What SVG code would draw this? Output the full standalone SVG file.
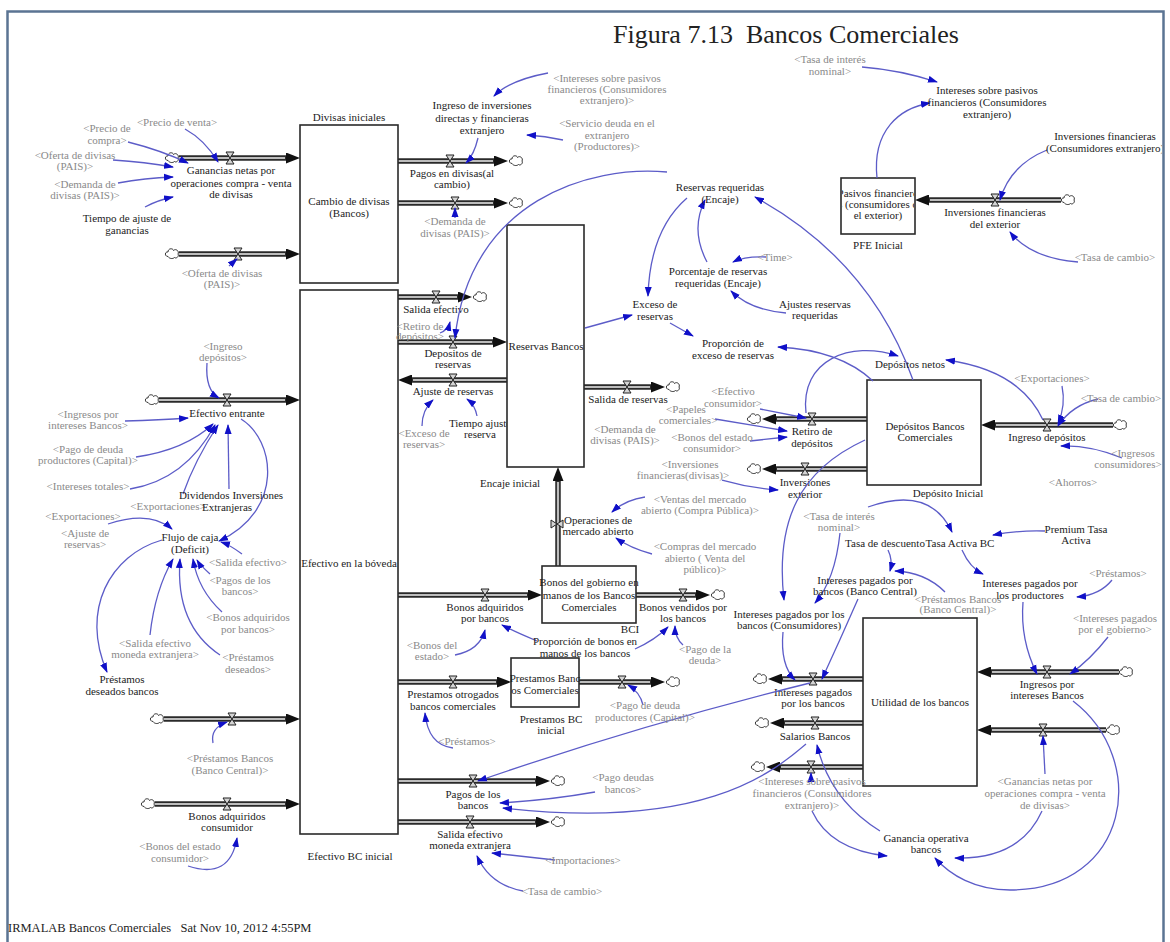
<svg xmlns="http://www.w3.org/2000/svg" width="1170" height="942" viewBox="0 0 1170 942">
<style>
.t{font-family:"Liberation Serif","Times New Roman",serif;font-size:11px;fill:#1c1c1c;text-anchor:middle}
.g{font-family:"Liberation Serif","Times New Roman",serif;font-size:11px;fill:#8a8a8a;text-anchor:middle}
.s{fill:#fff;stroke:#2a2a2a;stroke-width:1.6}
.po{stroke:#2a2a2a;stroke-width:5.5;fill:none;marker-end:url(#pa)}
.pi{stroke:#bdbdbd;stroke-width:2.2;fill:none}
.c{fill:none;stroke:#5c5cc8;stroke-width:1.3;marker-end:url(#ca)}
</style>
<defs>
<marker id="pa" markerUnits="userSpaceOnUse" markerWidth="14" markerHeight="11" refX="3" refY="5.5" orient="auto"><path d="M0,0L14,5.5L0,11Z" fill="#111"/></marker>
<marker id="ca" markerUnits="userSpaceOnUse" markerWidth="10" markerHeight="8" refX="9" refY="4" orient="auto"><path d="M0,0.5L10,4L0,7.5Z" fill="#1010c8"/></marker>
<g id="v"><path d="M-4,-6H4L-4,6H4Z" fill="#d4d4d4" stroke="#222" stroke-width="1"/></g>
<g id="vh"><path d="M-6,-4V4L6,-4V4Z" fill="#d4d4d4" stroke="#222" stroke-width="1"/></g>
<g id="cl"><path d="M-4,2.5C-7.5,2.5 -7.5,-2.5 -4,-2C-4,-6 1,-6 1.5,-3.5C4,-6 7.5,-2.5 6,0C7.5,2.5 4,5 2.5,3.5C1,5 -2.5,5 -4,2.5Z" fill="#fff" stroke="#333" stroke-width="1"/></g>
<clipPath id="fr"><rect x="9" y="13" width="1153" height="929"/></clipPath>
<clipPath id="pasclip"><rect x="842" y="179" width="72" height="54"/></clipPath>
</defs>
<rect x="0" y="0" width="1170" height="942" fill="#fff"/>
<rect x="7.5" y="11.5" width="1156" height="940" fill="#fff" stroke="#5b7493" stroke-width="2.5"/>
<text x="613" y="43" xml:space="preserve" style="font-family:'Liberation Serif','Times New Roman',serif;font-size:26px;fill:#222;white-space:pre">Figura 7.13  Bancos Comerciales</text>
<text x="8" y="932" xml:space="preserve" style="font-family:'Liberation Serif','Times New Roman',serif;font-size:12.5px;fill:#222;white-space:pre">IRMALAB Bancos Comerciales   Sat Nov 10, 2012 4:55PM</text>
<g clip-path="url(#fr)">
<g id="flows">
<g id="flow-ganancias"><line class="po" x1="179" y1="158" x2="289" y2="158"/><line class="pi" x1="179" y1="158" x2="285" y2="158"/><use href="#cl" x="172" y="158"/><use href="#v" x="230" y="158"/><text class="t"><tspan x="231" y="174">Ganancias netas por</tspan><tspan x="231" y="187">operaciones compra - venta</tspan><tspan x="231" y="198">de divisas</tspan></text></g>
<g id="flow-oferta"><line class="po" x1="179" y1="254" x2="289" y2="254"/><line class="pi" x1="179" y1="254" x2="285" y2="254"/><use href="#cl" x="172" y="254"/><use href="#v" x="238" y="254"/></g>
<g id="flow-pagos-divisas"><line class="po" x1="398" y1="161" x2="497" y2="161"/><line class="pi" x1="398" y1="161" x2="493" y2="161"/><use href="#cl" x="516" y="161"/><use href="#v" x="450" y="161"/><text class="t"><tspan x="452" y="177">Pagos en divisas(al</tspan><tspan x="452" y="188">cambio)</tspan></text></g>
<g id="flow-demanda"><line class="po" x1="398" y1="203" x2="497" y2="203"/><line class="pi" x1="398" y1="203" x2="493" y2="203"/><use href="#cl" x="516" y="203"/><use href="#v" x="455" y="203"/></g>
<g id="flow-efectivo-entrante"><line class="po" x1="159" y1="400" x2="289" y2="400"/><line class="pi" x1="159" y1="400" x2="285" y2="400"/><use href="#cl" x="152" y="400"/><use href="#v" x="227" y="400"/><text class="t" x="227" y="417">Efectivo entrante</text></g>
<g id="flow-salida-efectivo"><line class="po" x1="398" y1="297" x2="461" y2="297"/><line class="pi" x1="398" y1="297" x2="457" y2="297"/><use href="#cl" x="480" y="297"/><use href="#v" x="436" y="297"/><text class="t" x="436" y="313">Salida efectivo</text></g>
<g id="flow-depositos-reservas"><line class="po" x1="398" y1="342" x2="496" y2="342"/><line class="pi" x1="398" y1="342" x2="492" y2="342"/><use href="#v" x="453" y="342"/><text class="t"><tspan x="453" y="357">Depositos de</tspan><tspan x="453" y="368">reservas</tspan></text></g>
<g id="flow-ajuste-reservas"><line class="po" x1="507" y1="380" x2="409" y2="380"/><line class="pi" x1="507" y1="380" x2="413" y2="380"/><use href="#v" x="453" y="380"/><text class="t" x="453" y="395">Ajuste de reservas</text></g>
<g id="flow-salida-reservas"><line class="po" x1="584" y1="387" x2="654" y2="387"/><line class="pi" x1="584" y1="387" x2="650" y2="387"/><use href="#cl" x="673" y="387"/><use href="#v" x="627" y="387"/><text class="t" x="628" y="403">Salida de reservas</text></g>
<g id="flow-operaciones"><line class="po" x1="558" y1="566" x2="558" y2="478"/><line class="pi" x1="558" y1="566" x2="558" y2="482"/><use href="#vh" x="557" y="524"/><text class="t"><tspan x="598" y="524">Operaciones de</tspan><tspan x="598" y="535">mercado abierto</tspan></text></g>
<g id="flow-bonos-adq-bancos"><line class="po" x1="398" y1="595" x2="531" y2="595"/><line class="pi" x1="398" y1="595" x2="527" y2="595"/><use href="#v" x="485" y="595"/><text class="t"><tspan x="485" y="611">Bonos adquiridos</tspan><tspan x="485" y="622">por bancos</tspan></text></g>
<g id="flow-bonos-vendidos"><line class="po" x1="636" y1="595" x2="699" y2="595"/><line class="pi" x1="636" y1="595" x2="695" y2="595"/><use href="#cl" x="718" y="595"/><use href="#v" x="683" y="595"/><text class="t"><tspan x="683" y="611">Bonos vendidos por</tspan><tspan x="683" y="622">los bancos</tspan></text></g>
<g id="flow-prestamos-otrogados"><line class="po" x1="398" y1="682" x2="500" y2="682"/><line class="pi" x1="398" y1="682" x2="496" y2="682"/><use href="#v" x="453" y="682"/><text class="t"><tspan x="453" y="698">Prestamos otrogados</tspan><tspan x="453" y="710">bancos comerciales</tspan></text></g>
<g id="flow-pago-prestamos"><line class="po" x1="579" y1="682" x2="654" y2="682"/><line class="pi" x1="579" y1="682" x2="650" y2="682"/><use href="#cl" x="673" y="682"/><use href="#v" x="622" y="682"/></g>
<g id="flow-pagos-bancos"><line class="po" x1="398" y1="781" x2="539" y2="781"/><line class="pi" x1="398" y1="781" x2="535" y2="781"/><use href="#cl" x="558" y="781"/><use href="#v" x="473" y="781"/><text class="t"><tspan x="473" y="798">Pagos de los</tspan><tspan x="473" y="809">bancos</tspan></text></g>
<g id="flow-salida-moneda"><line class="po" x1="398" y1="822" x2="539" y2="822"/><line class="pi" x1="398" y1="822" x2="535" y2="822"/><use href="#cl" x="558" y="822"/><use href="#v" x="470" y="822"/><text class="t"><tspan x="470" y="838">Salida efectivo</tspan><tspan x="470" y="849">moneda extranjera</tspan></text></g>
<g id="flow-prestamos-bc"><line class="po" x1="164" y1="719" x2="289" y2="719"/><line class="pi" x1="164" y1="719" x2="285" y2="719"/><use href="#cl" x="157" y="719"/><use href="#v" x="232" y="719"/></g>
<g id="flow-bonos-consumidor"><line class="po" x1="155" y1="804" x2="289" y2="804"/><line class="pi" x1="155" y1="804" x2="285" y2="804"/><use href="#cl" x="148" y="804"/><use href="#v" x="227" y="804"/><text class="t"><tspan x="227" y="820">Bonos adquiridos</tspan><tspan x="227" y="831">consumidor</tspan></text></g>
<g id="flow-inv-fin-exterior"><line class="po" x1="1061" y1="200" x2="926" y2="200"/><line class="pi" x1="1061" y1="200" x2="930" y2="200"/><use href="#cl" x="1068" y="200"/><use href="#v" x="995" y="200"/><text class="t"><tspan x="995" y="216">Inversiones financieras</tspan><tspan x="995" y="228">del exterior</tspan></text></g>
<g id="flow-ingreso-depositos"><line class="po" x1="1113" y1="425" x2="992" y2="425"/><line class="pi" x1="1113" y1="425" x2="996" y2="425"/><use href="#cl" x="1120" y="425"/><use href="#v" x="1047" y="425"/><text class="t" x="1047" y="441">Ingreso depósitos</text></g>
<g id="flow-retiro"><line class="po" x1="867" y1="419" x2="773" y2="419"/><line class="pi" x1="867" y1="419" x2="777" y2="419"/><use href="#cl" x="754" y="419"/><use href="#v" x="812" y="419"/><text class="t"><tspan x="812" y="435">Retiro de</tspan><tspan x="812" y="447">depósitos</tspan></text></g>
<g id="flow-inv-exterior"><line class="po" x1="867" y1="469" x2="773" y2="469"/><line class="pi" x1="867" y1="469" x2="777" y2="469"/><use href="#cl" x="754" y="469"/><use href="#v" x="805" y="469"/><text class="t"><tspan x="805" y="486">Inversiones</tspan><tspan x="805" y="498">exterior</tspan></text></g>
<g id="flow-ingresos-intereses"><line class="po" x1="1119" y1="672" x2="988" y2="672"/><line class="pi" x1="1119" y1="672" x2="992" y2="672"/><use href="#cl" x="1126" y="672"/><use href="#v" x="1047" y="672"/><text class="t"><tspan x="1047" y="688">Ingresos por</tspan><tspan x="1047" y="699">intereses Bancos</tspan></text></g>
<g id="flow-int-pagados"><line class="po" x1="863" y1="679" x2="779" y2="679"/><line class="pi" x1="863" y1="679" x2="783" y2="679"/><use href="#cl" x="760" y="679"/><use href="#v" x="813" y="679"/><text class="t"><tspan x="813" y="696">Intereses pagados</tspan><tspan x="813" y="707">por los bancos</tspan></text></g>
<g id="flow-salarios"><line class="po" x1="863" y1="723" x2="781" y2="723"/><line class="pi" x1="863" y1="723" x2="785" y2="723"/><use href="#cl" x="762" y="723"/><use href="#v" x="815" y="723"/><text class="t" x="815" y="740">Salarios Bancos</text></g>
<g id="flow-int-pasivos"><line class="po" x1="863" y1="767" x2="777" y2="767"/><line class="pi" x1="863" y1="767" x2="781" y2="767"/><use href="#cl" x="758" y="767"/><use href="#v" x="811" y="767"/></g>
<g id="flow-ganancias-util"><line class="po" x1="1106" y1="730" x2="988" y2="730"/><line class="pi" x1="1106" y1="730" x2="992" y2="730"/><use href="#cl" x="1113" y="730"/><use href="#v" x="1043" y="730"/></g>
</g>
<g id="aux-tiempo-ajuste-res"><text class="t"><tspan x="480" y="427">Tiempo ajuste</tspan><tspan x="480" y="438">reserva</tspan></text></g>
<g id="stock-cambio"><rect class="s" x="300" y="125" width="98" height="158"/><text class="t"><tspan x="349" y="205">Cambio de divisas</tspan><tspan x="349" y="217">(Bancos)</tspan></text></g>
<g id="stock-efectivo"><rect class="s" x="300" y="290" width="98" height="544"/><text class="t" x="349" y="567">Efectivo en la bóveda</text></g>
<g id="stock-reservas"><rect class="s" x="507" y="225" width="77" height="242"/><text class="t" x="546" y="350">Reservas Bancos</text></g>
<g id="stock-pasivos"><rect class="s" x="841" y="178" width="74" height="56"/><text class="t" clip-path="url(#pasclip)"><tspan x="878" y="197">Pasivos financiero</tspan><tspan x="878" y="208">s (consumidores d</tspan><tspan x="878" y="219">el exterior)</tspan></text></g>
<g id="stock-depositos"><rect class="s" x="867" y="380" width="114" height="105"/><text class="t"><tspan x="925" y="430">Depósitos Bancos</tspan><tspan x="925" y="441">Comerciales</tspan></text></g>
<g id="stock-bonos"><rect class="s" x="542" y="566" width="94" height="57"/><text class="t"><tspan x="589" y="586">Bonos del gobierno en</tspan><tspan x="589" y="599">manos de los Bancos</tspan><tspan x="589" y="611">Comerciales</tspan></text></g>
<g id="stock-prestamos"><rect class="s" x="511" y="658" width="68" height="49"/><text class="t"><tspan x="545" y="682">Prestamos Banc</tspan><tspan x="545" y="694">os Comerciales</tspan></text></g>
<g id="stock-utilidad"><rect class="s" x="863" y="618" width="114" height="168"/><text class="t" x="920" y="706">Utilidad de los bancos</text></g>
<g id="connectors">
<path class="c" d="M185,129Q205,140 218,162"/>
<path class="c" d="M128,142Q160,150 188,163"/>
<path class="c" d="M113,160Q145,162 173,167"/>
<path class="c" d="M118,183Q145,178 173,177"/>
<path class="c" d="M145,207Q158,200 173,197"/>
<path class="c" d="M229,266L237,259"/>
<path class="c" d="M548,73Q510,80 494,96"/>
<path class="c" d="M563,140Q545,136 527,135"/>
<path class="c" d="M478,138Q474,155 466,163"/>
<path class="c" d="M455,218L455,208"/>
<path class="c" d="M667,172C590,165 470,200 455,338"/>
<path class="c" d="M687,198Q650,230 648,296"/>
<path class="c" d="M707,262Q690,230 705,200"/>
<path class="c" d="M766,257Q745,256 733,262"/>
<path class="c" d="M786,313Q750,310 731,291"/>
<path class="c" d="M913,380Q870,260 755,197"/>
<path class="c" d="M585,328L632,315"/>
<path class="c" d="M670,323L693,336"/>
<path class="c" d="M873,381Q840,350 778,347"/>
<path class="c" d="M806,413C800,360 850,340 898,356"/>
<path class="c" d="M1043,420Q1020,370 946,360"/>
<path class="c" d="M1062,386Q1066,405 1058,424"/>
<path class="c" d="M1098,399Q1072,405 1058,426"/>
<path class="c" d="M1122,458Q1090,445 1061,446"/>
<path class="c" d="M760,409L806,418"/>
<path class="c" d="M715,419L787,431"/>
<path class="c" d="M750,441L787,437"/>
<path class="c" d="M722,480Q750,488 778,490"/>
<path class="c" d="M865,440C800,470 775,520 784,600"/>
<path class="c" d="M840,533Q835,580 815,603"/>
<path class="c" d="M868,507Q930,485 952,532"/>
<path class="c" d="M1045,531Q1020,530 993,535"/>
<path class="c" d="M888,550Q893,560 890,571"/>
<path class="c" d="M945,592Q925,572 895,571"/>
<path class="c" d="M962,550Q970,568 983,574"/>
<path class="c" d="M1112,580Q1100,595 1077,597"/>
<path class="c" d="M1023,602Q1020,640 1037,674"/>
<path class="c" d="M1108,637Q1090,660 1070,674"/>
<path class="c" d="M858,599Q840,640 822,679"/>
<path class="c" d="M783,632Q780,665 795,680"/>
<path class="c" d="M810,683Q640,725 478,781"/>
<path class="c" d="M595,792Q550,800 500,803"/>
<path class="c" d="M806,744C770,775 700,830 503,808"/>
<path class="c" d="M555,860Q520,856 492,853"/>
<path class="c" d="M523,891Q490,885 477,856"/>
<path class="c" d="M880,831Q830,800 817,745"/>
<path class="c" d="M812,811Q830,850 887,856"/>
<path class="c" d="M1042,811Q1020,860 955,858"/>
<path class="c" d="M1073,701C1150,760 1130,890 1010,890C975,890 950,875 935,858"/>
<path class="c" d="M1045,774L1043,736"/>
<path class="c" d="M811,782L811,773"/>
<path class="c" d="M207,363Q205,390 219,398"/>
<path class="c" d="M125,421Q160,420 188,418"/>
<path class="c" d="M136,457Q185,450 213,424"/>
<path class="c" d="M130,489Q185,480 215,425"/>
<path class="c" d="M183,494Q195,460 218,425"/>
<path class="c" d="M229,489L228,425"/>
<path class="c" d="M241,419C275,440 285,510 219,541"/>
<path class="c" d="M108,524Q150,510 172,529"/>
<path class="c" d="M162,540C110,555 80,610 107,672"/>
<path class="c" d="M242,554Q230,545 221,542"/>
<path class="c" d="M210,574Q200,565 197,560"/>
<path class="c" d="M222,612Q198,590 193,559"/>
<path class="c" d="M150,635Q155,590 173,559"/>
<path class="c" d="M220,655Q175,625 180,559"/>
<path class="c" d="M213,743Q210,728 227,722"/>
<path class="c" d="M188,866Q230,880 237,838"/>
<path class="c" d="M455,655Q480,650 485,630"/>
<path class="c" d="M537,641Q515,632 502,625"/>
<path class="c" d="M635,649Q655,640 668,627"/>
<path class="c" d="M683,645Q675,638 675,626"/>
<path class="c" d="M645,497Q625,500 612,512"/>
<path class="c" d="M652,554Q630,548 616,538"/>
<path class="c" d="M643,705Q640,692 628,685"/>
<path class="c" d="M453,748Q428,745 425,713"/>
<path class="c" d="M422,426Q422,410 433,400"/>
<path class="c" d="M477,416Q475,405 467,399"/>
<path class="c" d="M440,333Q448,330 450,322"/>
<path class="c" d="M877,178C872,130 900,108 930,103"/>
<path class="c" d="M862,67Q900,70 937,82"/>
<path class="c" d="M1047,150Q1010,165 1000,200"/>
<path class="c" d="M1078,262Q1030,258 1010,232"/>
</g>
<g id="aux-precio-venta"><text class="g" x="177" y="126">&lt;Precio de venta&gt;</text></g>
<g id="aux-precio-compra"><text class="g"><tspan x="107" y="132">&lt;Precio de</tspan><tspan x="107" y="144">compra&gt;</tspan></text></g>
<g id="aux-oferta-1"><text class="g"><tspan x="75" y="159">&lt;Oferta de divisas</tspan><tspan x="75" y="170">(PAIS)&gt;</tspan></text></g>
<g id="aux-demanda-1"><text class="g"><tspan x="85" y="188">&lt;Demanda de</tspan><tspan x="85" y="199">divisas (PAIS)&gt;</tspan></text></g>
<g id="aux-tiempo-ajuste"><text class="t"><tspan x="127" y="222">Tiempo de ajuste de</tspan><tspan x="127" y="234">ganancias</tspan></text></g>
<g id="aux-divisas-iniciales"><text class="t" x="349" y="121">Divisas iniciales</text></g>
<g id="aux-ingreso-inversiones"><text class="t"><tspan x="482" y="109">Ingreso de inversiones</tspan><tspan x="482" y="122">directas y financieras</tspan><tspan x="482" y="134">extranjero</tspan></text></g>
<g id="aux-int-pasivos-ref"><text class="g"><tspan x="607" y="82">&lt;Intereses sobre pasivos</tspan><tspan x="607" y="93">financieros (Consumidores</tspan><tspan x="607" y="104">extranjero)&gt;</tspan></text></g>
<g id="aux-servicio-deuda"><text class="g"><tspan x="607" y="127">&lt;Servicio deuda en el</tspan><tspan x="607" y="139">extranjero</tspan><tspan x="607" y="150">(Productores)&gt;</tspan></text></g>
<g id="aux-demanda-2"><text class="g"><tspan x="455" y="225">&lt;Demanda de</tspan><tspan x="455" y="237">divisas (PAIS)&gt;</tspan></text></g>
<g id="aux-oferta-2"><text class="g"><tspan x="222" y="277">&lt;Oferta de divisas</tspan><tspan x="222" y="288">(PAIS)&gt;</tspan></text></g>
<g id="aux-reservas-requeridas"><text class="t"><tspan x="720" y="191">Reservas requeridas</tspan><tspan x="720" y="203">(Encaje)</tspan></text></g>
<g id="aux-tasa-nominal-1"><text class="g"><tspan x="830" y="63">&lt;Tasa de interés</tspan><tspan x="830" y="75">nominal&gt;</tspan></text></g>
<g id="aux-int-pasivos"><text class="t"><tspan x="987" y="94">Intereses sobre pasivos</tspan><tspan x="987" y="106">financieros (Consumidores</tspan><tspan x="987" y="118">extranjero)</tspan></text></g>
<g id="aux-inv-fin-consumidores"><text class="t"><tspan x="1105" y="140">Inversiones financieras</tspan><tspan x="1105" y="152">(Consumidores extranjero)</tspan></text></g>
<g id="aux-pfe-inicial"><text class="t" x="878" y="249">PFE Inicial</text></g>
<g id="aux-tasa-cambio-1"><text class="g" x="1115" y="261">&lt;Tasa de cambio&gt;</text></g>
<g id="aux-time"><text class="g" x="775" y="261">&lt;Time&gt;</text></g>
<g id="aux-porcentaje"><text class="t"><tspan x="718" y="275">Porcentaje de reservas</tspan><tspan x="718" y="287">requeridas (Encaje)</tspan></text></g>
<g id="aux-ajustes-reservas"><text class="t"><tspan x="815" y="308">Ajustes reservas</tspan><tspan x="815" y="319">requeridas</tspan></text></g>
<g id="aux-exceso"><text class="t"><tspan x="655" y="308">Exceso de</tspan><tspan x="655" y="320">reservas</tspan></text></g>
<g id="aux-proporcion-exceso"><text class="t"><tspan x="733" y="347">Proporción de</tspan><tspan x="733" y="359">exceso de reservas</tspan></text></g>
<g id="aux-depositos-netos"><text class="t" x="910" y="368">Depósitos netos</text></g>
<g id="aux-exportaciones-1"><text class="g" x="1052" y="382">&lt;Exportaciones&gt;</text></g>
<g id="aux-tasa-cambio-2"><text class="g" x="1121" y="402">&lt;Tasa de cambio&gt;</text></g>
<g id="aux-ingresos-consumidores"><text class="g"><tspan x="1133" y="457">&lt;Ingresos</tspan><tspan x="1128" y="468">consumidores&gt;</tspan></text></g>
<g id="aux-ahorros"><text class="g" x="1073" y="486">&lt;Ahorros&gt;</text></g>
<g id="aux-deposito-inicial"><text class="t" x="948" y="497">Depósito Inicial</text></g>
<g id="aux-retiro-ref"><text class="g"><tspan x="420" y="330">&lt;Retiro de</tspan><tspan x="420" y="340">depósitos&gt;</tspan></text></g>
<g id="aux-exceso-ref"><text class="g"><tspan x="424" y="437">&lt;Exceso de</tspan><tspan x="424" y="448">reservas&gt;</tspan></text></g>
<g id="aux-demanda-3"><text class="g"><tspan x="625" y="433">&lt;Demanda de</tspan><tspan x="625" y="444">divisas (PAIS)&gt;</tspan></text></g>
<g id="aux-efectivo-consumidor"><text class="g"><tspan x="733" y="395">&lt;Efectivo</tspan><tspan x="733" y="407">consumidor&gt;</tspan></text></g>
<g id="aux-papeles"><text class="g"><tspan x="686" y="413">&lt;Papeles</tspan><tspan x="688" y="424">comerciales&gt;</tspan></text></g>
<g id="aux-bonos-estado-cons-1"><text class="g"><tspan x="712" y="441">&lt;Bonos del estado</tspan><tspan x="712" y="452">consumidor&gt;</tspan></text></g>
<g id="aux-inversiones-fin"><text class="g"><tspan x="690" y="468">&lt;Inversiones</tspan><tspan x="683" y="479">financieras(divisas)&gt;</tspan></text></g>
<g id="aux-encaje-inicial"><text class="t" x="510" y="487">Encaje inicial</text></g>
<g id="aux-ingreso-dep-ref"><text class="g"><tspan x="223" y="350">&lt;Ingreso</tspan><tspan x="223" y="361">depósitos&gt;</tspan></text></g>
<g id="aux-ingresos-int-ref"><text class="g"><tspan x="88" y="418">&lt;Ingresos por</tspan><tspan x="88" y="429">intereses Bancos&gt;</tspan></text></g>
<g id="aux-pago-deuda-ref"><text class="g"><tspan x="88" y="453">&lt;Pago de deuda</tspan><tspan x="88" y="464">productores (Capital)&gt;</tspan></text></g>
<g id="aux-intereses-totales"><text class="g" x="88" y="490">&lt;Intereses totales&gt;</text></g>
<g id="aux-exportaciones-2"><text class="g" x="168" y="510">&lt;Exportaciones&gt;</text></g>
<g id="aux-dividendos"><text class="t"><tspan x="231" y="499">Dividendos Inversiones</tspan><tspan x="227" y="511">Extranjeras</tspan></text></g>
<g id="aux-exportaciones-3"><text class="g" x="83" y="520">&lt;Exportaciones&gt;</text></g>
<g id="aux-ajuste-ref"><text class="g"><tspan x="85" y="537">&lt;Ajuste de</tspan><tspan x="85" y="548">reservas&gt;</tspan></text></g>
<g id="aux-flujo-caja"><text class="t"><tspan x="190" y="541">Flujo de caja</tspan><tspan x="190" y="553">(Deficit)</tspan></text></g>
<g id="aux-salida-ef-ref"><text class="g" x="248" y="566">&lt;Salida efectivo&gt;</text></g>
<g id="aux-pagos-ref"><text class="g"><tspan x="240" y="584">&lt;Pagos de los</tspan><tspan x="240" y="595">bancos&gt;</tspan></text></g>
<g id="aux-bonos-adq-ref"><text class="g"><tspan x="248" y="621">&lt;Bonos adquiridos</tspan><tspan x="248" y="633">por bancos&gt;</tspan></text></g>
<g id="aux-salida-moneda-ref"><text class="g"><tspan x="155" y="647">&lt;Salida efectivo</tspan><tspan x="155" y="658">moneda extranjera&gt;</tspan></text></g>
<g id="aux-prest-deseados-ref"><text class="g"><tspan x="248" y="661">&lt;Préstamos</tspan><tspan x="248" y="673">deseados&gt;</tspan></text></g>
<g id="aux-prestamos-deseados"><text class="t"><tspan x="122" y="683">Préstamos</tspan><tspan x="122" y="695">deseados bancos</tspan></text></g>
<g id="aux-ventas-ma"><text class="g"><tspan x="700" y="503">&lt;Ventas del mercado</tspan><tspan x="700" y="514">abierto (Compra Pública)&gt;</tspan></text></g>
<g id="aux-compras-ma"><text class="g"><tspan x="705" y="550">&lt;Compras del mercado</tspan><tspan x="705" y="562">abierto ( Venta del</tspan><tspan x="705" y="573">público)&gt;</tspan></text></g>
<g id="aux-bci"><text class="t" x="630" y="633">BCI</text></g>
<g id="aux-proporcion-bonos"><text class="t"><tspan x="585" y="645">Proporción de bonos en</tspan><tspan x="585" y="657">manos de los bancos</tspan></text></g>
<g id="aux-bonos-estado"><text class="g"><tspan x="432" y="649">&lt;Bonos del</tspan><tspan x="432" y="660">estado&gt;</tspan></text></g>
<g id="aux-pago-la-deuda"><text class="g"><tspan x="705" y="653">&lt;Pago de la</tspan><tspan x="705" y="664">deuda&gt;</tspan></text></g>
<g id="aux-pago-deuda-prod"><text class="g"><tspan x="645" y="709">&lt;Pago de deuda</tspan><tspan x="645" y="721">productores (Capital)&gt;</tspan></text></g>
<g id="aux-prestamos-bc-inicial"><text class="t"><tspan x="551" y="723">Prestamos BC</tspan><tspan x="551" y="734">inicial</tspan></text></g>
<g id="aux-prestamos-1"><text class="g" x="467" y="745">&lt;Préstamos&gt;</text></g>
<g id="aux-prest-bc-ref"><text class="g"><tspan x="230" y="762">&lt;Préstamos Bancos</tspan><tspan x="230" y="774">(Banco Central)&gt;</tspan></text></g>
<g id="aux-pago-deudas-bancos"><text class="g"><tspan x="623" y="781">&lt;Pago deudas</tspan><tspan x="623" y="793">bancos&gt;</tspan></text></g>
<g id="aux-bonos-estado-cons-2"><text class="g"><tspan x="180" y="850">&lt;Bonos del estado</tspan><tspan x="180" y="862">consumidor&gt;</tspan></text></g>
<g id="aux-efectivo-bc-inicial"><text class="t" x="350" y="860">Efectivo BC inicial</text></g>
<g id="aux-importaciones"><text class="g" x="583" y="864">&lt;Importaciones&gt;</text></g>
<g id="aux-tasa-cambio-3"><text class="g" x="562" y="895">&lt;Tasa de cambio&gt;</text></g>
<g id="aux-tasa-nominal-2"><text class="g"><tspan x="839" y="520">&lt;Tasa de interés</tspan><tspan x="839" y="531">nominal&gt;</tspan></text></g>
<g id="aux-tasa-descuento"><text class="t" x="885" y="547">Tasa de descuento</text></g>
<g id="aux-tasa-activa"><text class="t" x="960" y="547">Tasa Activa BC</text></g>
<g id="aux-premium"><text class="t"><tspan x="1076" y="533">Premium Tasa</tspan><tspan x="1076" y="544">Activa</tspan></text></g>
<g id="aux-int-pag-bc"><text class="t"><tspan x="865" y="584">Intereses pagados por</tspan><tspan x="865" y="595">bancos (Banco Central)</tspan></text></g>
<g id="aux-prest-bc-ref-2"><text class="g"><tspan x="958" y="603">&lt;Préstamos Bancos</tspan><tspan x="958" y="613">(Banco Central)&gt;</tspan></text></g>
<g id="aux-int-pag-prod"><text class="t"><tspan x="1030" y="587">Intereses pagados por</tspan><tspan x="1030" y="599">los productores</tspan></text></g>
<g id="aux-prestamos-2"><text class="g" x="1118" y="577">&lt;Préstamos&gt;</text></g>
<g id="aux-int-pag-gob"><text class="g"><tspan x="1115" y="622">&lt;Intereses pagados</tspan><tspan x="1115" y="633">por el gobierno&gt;</tspan></text></g>
<g id="aux-int-pag-cons"><text class="t"><tspan x="789" y="618">Intereses pagados por los</tspan><tspan x="789" y="629">bancos (Consumidores)</tspan></text></g>
<g id="aux-int-pasivos-ref-2"><text class="g"><tspan x="812" y="785">&lt;Intereses sobre pasivos</tspan><tspan x="812" y="797">financieros (Consumidores</tspan><tspan x="812" y="809">extranjero)&gt;</tspan></text></g>
<g id="aux-ganancias-ref"><text class="g"><tspan x="1045" y="785">&lt;Ganancias netas por</tspan><tspan x="1045" y="797">operaciones compra - venta</tspan><tspan x="1045" y="809">de divisas&gt;</tspan></text></g>
<g id="aux-ganancia-operativa"><text class="t"><tspan x="926" y="842">Ganancia operativa</tspan><tspan x="926" y="853">bancos</tspan></text></g>
</g>
</svg>
